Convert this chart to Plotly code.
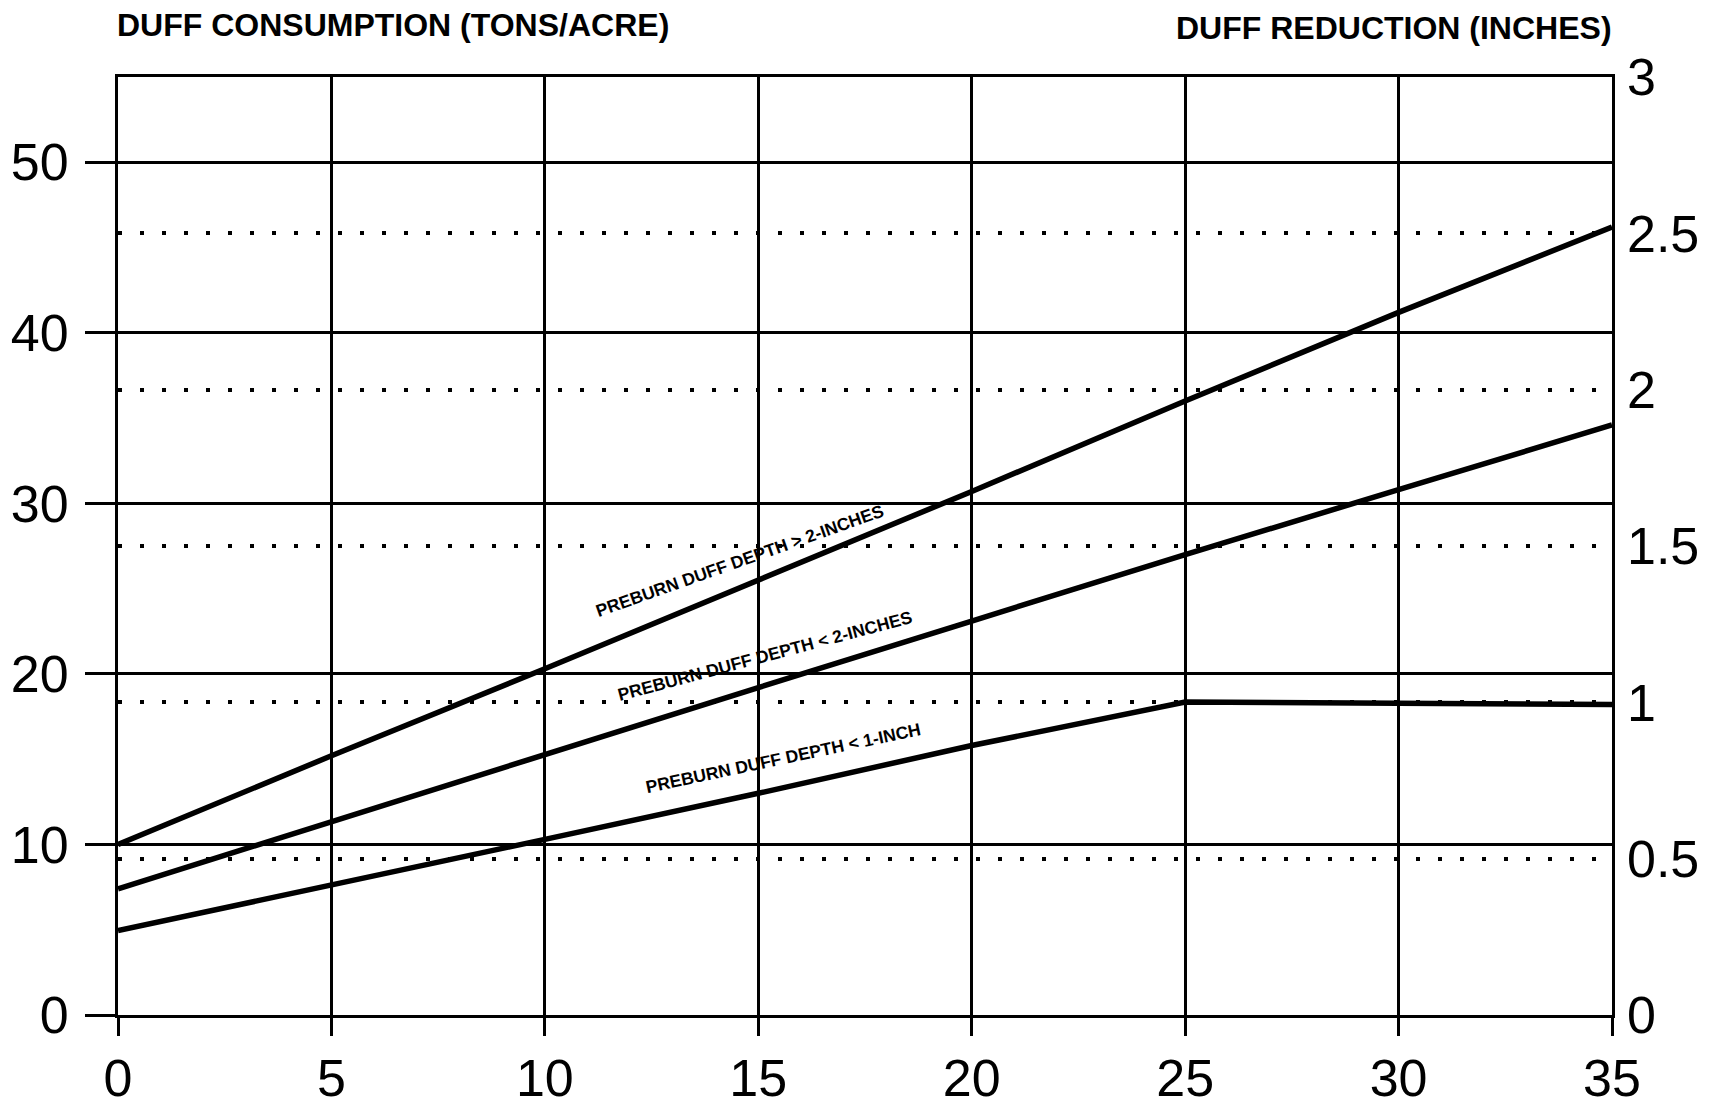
import plotly.graph_objects as go

# ---- data ----
x_vals = [0, 5, 10, 15, 20, 25, 30, 35]
duff_gt_2in = [10.0, 15.2, 20.3, 25.5, 30.7, 36.0, 41.2, 46.2]
duff_lt_2in = [7.4, 11.35, 15.3, 19.2, 23.1, 27.0, 30.8, 34.6]
duff_lt_1in = [4.95, 7.6, 10.3, 13.0, 15.8, 18.35, 18.3, 18.2]

series_labels = [
    "PREBURN DUFF DEPTH &gt; 2-INCHES",
    "PREBURN DUFF DEPTH &lt; 2-INCHES",
    "PREBURN DUFF DEPTH &lt; 1-INCH",
]

left_title = "DUFF CONSUMPTION (TONS/ACRE)"
right_title = "DUFF REDUCTION (INCHES)"

x_ticks = [0, 5, 10, 15, 20, 25, 30, 35]
left_ticks = [0, 10, 20, 30, 40, 50]
right_ticks = [0, 0.5, 1, 1.5, 2, 2.5, 3]
right_tick_text = ["0", "0.5", "1", "1.5", "2", "2.5", "3"]

# ---- figure ----
fig = go.Figure()
for ys in (duff_gt_2in, duff_lt_2in, duff_lt_1in):
    fig.add_trace(go.Scatter(x=x_vals, y=ys, mode="lines",
                             line=dict(color="black", width=5.5),
                             showlegend=False, hoverinfo="skip"))

# invisible trace to activate right axis
fig.add_trace(go.Scatter(x=[0], y=[0], yaxis="y2", mode="markers",
                         marker=dict(opacity=0), showlegend=False, hoverinfo="skip"))

# label placements (data coordinates) and angles
label_pos = [(14.56, 26.6, -19.5), (15.15, 21.05, -15.0), (15.6, 15.05, -12.0)]
for text, (lx, ly, ang) in zip(series_labels, label_pos):
    fig.add_annotation(x=lx, y=ly, xref="x", yref="y", text=text, showarrow=False,
                       textangle=ang, xanchor="center", yanchor="middle",
                       font=dict(family="Liberation Sans", size=17.5, color="black", weight="bold"))

fig.add_annotation(x=0, y=1.0, xref="paper", yref="paper", yshift=52, xshift=-3,
                   text=left_title, showarrow=False, xanchor="left", yanchor="middle",
                   font=dict(family="Liberation Sans", size=32, color="black", weight="bold"))
fig.add_annotation(x=1, y=1.0, xref="paper", yref="paper", yshift=49, xshift=2,
                   text=right_title, showarrow=False, xanchor="right", yanchor="middle",
                   font=dict(family="Liberation Sans", size=32, color="black", weight="bold"))

tick_font = dict(family="Liberation Sans", size=52, color="black")

fig.update_layout(
    width=1722, height=1108,
    margin=dict(l=118, r=110, t=77, b=93, autoexpand=False),
    paper_bgcolor="white", plot_bgcolor="white",
    xaxis=dict(range=[0, 35], tickvals=x_ticks, ticks="outside", ticklen=18,
               tickwidth=2.5, tickcolor="black", showgrid=True, gridcolor="black",
               gridwidth=2.5, showline=True, linecolor="black", linewidth=3,
               mirror=True, zeroline=False, tickfont=tick_font,
               ticklabelstandoff=-2, automargin=False),
    yaxis=dict(range=[0, 55], tickvals=left_ticks, ticks="outside", ticklen=30,
               tickwidth=2.5, tickcolor="black", showgrid=True, gridcolor="black",
               gridwidth=2.5, showline=True, linecolor="black", linewidth=3,
               mirror=True, zeroline=False, tickfont=tick_font,
               ticklabelstandoff=6, automargin=False),
    yaxis2=dict(range=[0, 3], overlaying="y", side="right", tickvals=right_ticks,
                ticktext=right_tick_text, ticks="", showgrid=True, gridcolor="black",
                gridwidth=3.5, griddash="3.5px,18.5px", showline=False, zeroline=False,
                tickfont=tick_font, ticklabelstandoff=14, automargin=False),
)

fig.write_html("out.html")
